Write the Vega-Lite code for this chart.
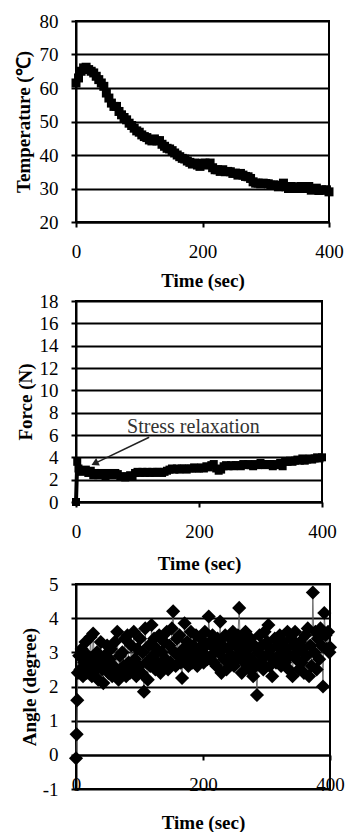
{
  "$schema": "https://vega.github.io/schema/vega-lite/v6.json",
  "padding": {"left": 13, "top": 11, "right": 5, "bottom": 0},
  "columns": 1,
  "align": "none",
  "spacing": 0,
  "datasets": {
    "temp": [
      {"t":0,"v":61.5},{"t":4,"v":63},{"t":8,"v":65},{"t":12,"v":66},{"t":16,"v":66.2},{"t":20,"v":65.5},{"t":24,"v":65},{"t":28,"v":64.5},{"t":32,"v":63.5},{"t":36,"v":62.5},{"t":40,"v":61.5},{"t":44,"v":60.5},{"t":48,"v":58.5},{"t":52,"v":57},{"t":56,"v":55.5},{"t":60,"v":54.5},{"t":64,"v":54.5},{"t":68,"v":53},{"t":72,"v":52},{"t":76,"v":51.2},{"t":80,"v":50.5},{"t":84,"v":49.5},{"t":88,"v":48.8},{"t":92,"v":48},{"t":96,"v":47.2},{"t":100,"v":46.8},{"t":104,"v":46},{"t":108,"v":45.5},{"t":112,"v":45.2},{"t":116,"v":44.5},{"t":120,"v":44.2},{"t":124,"v":44.8},{"t":128,"v":44.2},{"t":132,"v":44.3},{"t":136,"v":43.2},{"t":140,"v":42.6},{"t":144,"v":42},{"t":148,"v":41.8},{"t":152,"v":41.3},{"t":156,"v":40.6},{"t":160,"v":40},{"t":164,"v":39.5},{"t":168,"v":39},{"t":172,"v":38.8},{"t":176,"v":38.2},{"t":180,"v":37.8},{"t":184,"v":37.3},{"t":188,"v":37.6},{"t":192,"v":37},{"t":196,"v":36.6},{"t":200,"v":37.5},{"t":204,"v":37.6},{"t":208,"v":37},{"t":212,"v":37.6},{"t":216,"v":36.2},{"t":220,"v":35.6},{"t":224,"v":35.6},{"t":228,"v":35.1},{"t":232,"v":35.6},{"t":236,"v":35},{"t":240,"v":35.1},{"t":244,"v":35},{"t":248,"v":34.5},{"t":252,"v":34.6},{"t":256,"v":34},{"t":260,"v":34.5},{"t":264,"v":34},{"t":268,"v":33.6},{"t":272,"v":33.5},{"t":276,"v":33},{"t":280,"v":32},{"t":284,"v":31.6},{"t":288,"v":31.6},{"t":292,"v":31.4},{"t":296,"v":31.6},{"t":300,"v":31.5},{"t":304,"v":31.4},{"t":308,"v":31},{"t":312,"v":31.1},{"t":316,"v":30.9},{"t":320,"v":30.5},{"t":324,"v":31},{"t":328,"v":31.6},{"t":332,"v":30.5},{"t":336,"v":30},{"t":340,"v":30.6},{"t":344,"v":30},{"t":348,"v":30.5},{"t":352,"v":30},{"t":356,"v":30.6},{"t":360,"v":30},{"t":364,"v":30.1},{"t":368,"v":30.6},{"t":372,"v":29.5},{"t":376,"v":30},{"t":380,"v":30.1},{"t":384,"v":29.4},{"t":388,"v":29.6},{"t":392,"v":29.5},{"t":396,"v":29.6},{"t":400,"v":29}
    ],
    "force": [
      {"t":0,"f":0},{"t":2,"f":3.6},{"t":4,"f":3.0},{"t":8,"f":2.7},{"t":12,"f":2.8},{"t":16,"f":2.9},{"t":20,"f":2.6},{"t":24,"f":2.8},{"t":28,"f":2.4},{"t":32,"f":2.6},{"t":36,"f":2.4},{"t":40,"f":2.6},{"t":44,"f":2.5},{"t":48,"f":2.3},{"t":52,"f":2.6},{"t":56,"f":2.5},{"t":60,"f":2.4},{"t":64,"f":2.6},{"t":68,"f":2.5},{"t":72,"f":2.3},{"t":76,"f":2.3},{"t":80,"f":2.2},{"t":84,"f":2.3},{"t":88,"f":2.4},{"t":92,"f":2.3},{"t":96,"f":2.6},{"t":100,"f":2.7},{"t":104,"f":2.6},{"t":108,"f":2.7},{"t":112,"f":2.6},{"t":116,"f":2.7},{"t":120,"f":2.6},{"t":124,"f":2.7},{"t":128,"f":2.6},{"t":132,"f":2.7},{"t":136,"f":2.7},{"t":140,"f":2.6},{"t":144,"f":2.7},{"t":148,"f":2.8},{"t":152,"f":2.9},{"t":156,"f":3.0},{"t":160,"f":2.9},{"t":164,"f":3.0},{"t":168,"f":2.9},{"t":172,"f":3.0},{"t":176,"f":3.0},{"t":180,"f":2.9},{"t":184,"f":3.0},{"t":188,"f":3.0},{"t":192,"f":3.1},{"t":196,"f":3.0},{"t":200,"f":3.0},{"t":204,"f":3.1},{"t":208,"f":3.0},{"t":212,"f":3.2},{"t":216,"f":3.1},{"t":220,"f":3.3},{"t":224,"f":3.4},{"t":228,"f":3.0},{"t":232,"f":2.8},{"t":236,"f":2.9},{"t":240,"f":3.2},{"t":244,"f":3.3},{"t":248,"f":3.2},{"t":252,"f":3.3},{"t":256,"f":3.2},{"t":260,"f":3.3},{"t":264,"f":3.3},{"t":268,"f":3.2},{"t":272,"f":3.4},{"t":276,"f":3.3},{"t":280,"f":3.4},{"t":284,"f":3.3},{"t":288,"f":3.2},{"t":292,"f":3.4},{"t":296,"f":3.3},{"t":300,"f":3.5},{"t":304,"f":3.4},{"t":308,"f":3.3},{"t":312,"f":3.4},{"t":316,"f":3.4},{"t":320,"f":3.2},{"t":324,"f":3.4},{"t":328,"f":3.3},{"t":332,"f":3.5},{"t":336,"f":3.2},{"t":340,"f":3.6},{"t":344,"f":3.6},{"t":348,"f":3.7},{"t":352,"f":3.6},{"t":356,"f":3.7},{"t":360,"f":3.8},{"t":364,"f":3.7},{"t":368,"f":3.9},{"t":372,"f":3.7},{"t":376,"f":3.8},{"t":380,"f":3.9},{"t":384,"f":3.8},{"t":388,"f":3.9},{"t":392,"f":4.0},{"t":396,"f":3.9},{"t":400,"f":4.0}
    ],
    "angle": [
      {"t":0,"a":-0.1},{"t":1,"a":0.6},{"t":2,"a":1.6},{"t":3,"a":2.4},{"t":5,"a":2.9},{"t":7,"a":2.5},{"t":9,"a":3.1},{"t":11,"a":2.3},{"t":13,"a":2.7},{"t":15,"a":3.3},{"t":17,"a":2.4},{"t":19,"a":2.9},{"t":21,"a":2.6},{"t":23,"a":3.45},{"t":25,"a":2.3},{"t":27,"a":3.55},{"t":29,"a":2.8},{"t":31,"a":2.5},{"t":33,"a":3.0},{"t":35,"a":2.2},{"t":37,"a":2.7},{"t":39,"a":3.3},{"t":41,"a":2.5},{"t":43,"a":2.1},{"t":45,"a":2.9},{"t":47,"a":2.6},{"t":49,"a":3.2},{"t":51,"a":2.4},{"t":53,"a":2.8},{"t":55,"a":3.1},{"t":57,"a":2.3},{"t":59,"a":2.6},{"t":61,"a":3.3},{"t":63,"a":2.5},{"t":65,"a":3.6},{"t":67,"a":2.2},{"t":69,"a":2.9},{"t":71,"a":2.4},{"t":73,"a":3.0},{"t":75,"a":2.6},{"t":77,"a":3.4},{"t":79,"a":2.3},{"t":81,"a":3.5},{"t":83,"a":2.7},{"t":85,"a":2.4},{"t":87,"a":3.2},{"t":89,"a":2.5},{"t":91,"a":3.6},{"t":93,"a":2.8},{"t":95,"a":2.3},{"t":97,"a":3.1},{"t":99,"a":2.6},{"t":101,"a":3.4},{"t":103,"a":2.4},{"t":105,"a":3.0},{"t":107,"a":1.85},{"t":109,"a":3.7},{"t":111,"a":2.7},{"t":113,"a":2.2},{"t":115,"a":3.2},{"t":117,"a":2.6},{"t":119,"a":3.8},{"t":121,"a":2.9},{"t":123,"a":3.4},{"t":125,"a":2.5},{"t":127,"a":3.1},{"t":129,"a":2.7},{"t":131,"a":3.5},{"t":133,"a":2.4},{"t":135,"a":3.0},{"t":137,"a":2.6},{"t":139,"a":3.3},{"t":141,"a":2.8},{"t":143,"a":3.6},{"t":145,"a":2.5},{"t":147,"a":3.2},{"t":149,"a":2.7},{"t":151,"a":3.7},{"t":153,"a":4.2},{"t":155,"a":3.0},{"t":157,"a":2.6},{"t":159,"a":3.4},{"t":161,"a":2.9},{"t":163,"a":3.5},{"t":165,"a":2.7},{"t":167,"a":2.25},{"t":169,"a":3.1},{"t":171,"a":3.85},{"t":173,"a":2.8},{"t":175,"a":3.3},{"t":177,"a":2.6},{"t":179,"a":3.0},{"t":181,"a":3.6},{"t":183,"a":2.7},{"t":185,"a":3.2},{"t":187,"a":2.9},{"t":189,"a":3.5},{"t":191,"a":2.6},{"t":193,"a":3.1},{"t":195,"a":2.8},{"t":197,"a":3.4},{"t":199,"a":3.0},{"t":201,"a":2.7},{"t":203,"a":3.6},{"t":205,"a":3.2},{"t":207,"a":2.8},{"t":209,"a":4.05},{"t":211,"a":3.3},{"t":213,"a":2.9},{"t":215,"a":3.5},{"t":217,"a":2.7},{"t":219,"a":3.1},{"t":221,"a":2.6},{"t":223,"a":3.4},{"t":225,"a":3.0},{"t":227,"a":3.9},{"t":229,"a":2.4},{"t":231,"a":3.2},{"t":233,"a":2.8},{"t":235,"a":3.5},{"t":237,"a":2.5},{"t":239,"a":3.1},{"t":241,"a":2.7},{"t":243,"a":3.4},{"t":245,"a":2.9},{"t":247,"a":3.6},{"t":249,"a":2.6},{"t":251,"a":3.2},{"t":253,"a":2.8},{"t":255,"a":3.5},{"t":257,"a":4.3},{"t":259,"a":3.0},{"t":261,"a":2.4},{"t":263,"a":3.3},{"t":265,"a":2.7},{"t":267,"a":3.6},{"t":269,"a":2.9},{"t":271,"a":3.1},{"t":273,"a":2.5},{"t":275,"a":3.4},{"t":277,"a":2.8},{"t":279,"a":2.3},{"t":281,"a":3.2},{"t":283,"a":2.6},{"t":285,"a":1.75},{"t":287,"a":3.0},{"t":289,"a":3.5},{"t":291,"a":2.7},{"t":293,"a":3.2},{"t":295,"a":2.5},{"t":297,"a":3.6},{"t":299,"a":2.9},{"t":301,"a":3.3},{"t":303,"a":3.8},{"t":305,"a":2.6},{"t":307,"a":3.1},{"t":309,"a":2.3},{"t":311,"a":2.8},{"t":313,"a":3.4},{"t":315,"a":2.7},{"t":317,"a":3.2},{"t":319,"a":2.9},{"t":321,"a":3.5},{"t":323,"a":2.6},{"t":325,"a":3.0},{"t":327,"a":3.3},{"t":329,"a":2.7},{"t":331,"a":3.1},{"t":333,"a":3.6},{"t":335,"a":2.5},{"t":337,"a":2.9},{"t":339,"a":3.4},{"t":341,"a":2.3},{"t":343,"a":3.2},{"t":345,"a":3.6},{"t":347,"a":2.8},{"t":349,"a":3.0},{"t":351,"a":2.5},{"t":353,"a":3.3},{"t":355,"a":2.7},{"t":357,"a":3.1},{"t":359,"a":2.4},{"t":361,"a":3.5},{"t":363,"a":2.9},{"t":365,"a":3.7},{"t":367,"a":2.3},{"t":369,"a":3.2},{"t":371,"a":2.6},{"t":373,"a":4.75},{"t":375,"a":3.0},{"t":377,"a":3.6},{"t":379,"a":2.5},{"t":381,"a":3.4},{"t":383,"a":2.8},{"t":385,"a":3.7},{"t":387,"a":3.2},{"t":389,"a":2.0},{"t":391,"a":4.15},{"t":393,"a":3.5},{"t":395,"a":3.1},{"t":397,"a":3.6},{"t":399,"a":3.0},{"t":400,"a":3.15}
    ],
    "note": [{"t":191,"f":6.18,"label":"Stress relaxation"}],
    "arrow": [{"t":119,"f":5.8,"t2":30.5,"f2":3.46}],
    "head": [{"t":30.5,"f":3.46}]
  },
  "concat": [
    {
      "width": 253, "height": 201,
      "data": {"name": "temp"},
      "encoding": {
        "x": {"field": "t", "type": "quantitative", "scale": {"domain": [0, 400], "nice": false}, "axis": {"values": [0, 200, 400], "title": "Time (sec)", "titlePadding": 10}},
        "y": {"field": "v", "type": "quantitative", "scale": {"domain": [20, 80], "nice": false, "zero": false}, "axis": {"values": [20, 30, 40, 50, 60, 70, 80], "labelOverlap": false, "title": "Temperature (℃)", "titlePadding": 6}}
      },
      "layer": [
        {"mark": {"type": "line", "color": "black", "strokeWidth": 5}},
        {"mark": {"type": "point", "shape": "square", "filled": true, "color": "black", "opacity": 1, "size": 81}}
      ]
    },
    {
      "width": 246, "height": 201,
      "encoding": {
        "x": {"field": "t", "type": "quantitative", "scale": {"domain": [0, 400], "nice": false}, "axis": {"values": [0, 200, 400], "title": "Time (sec)", "titlePadding": 13}},
        "y": {"field": "f", "type": "quantitative", "scale": {"domain": [0, 18], "nice": false}, "axis": {"values": [0, 2, 4, 6, 8, 10, 12, 14, 16, 18], "labelOverlap": false, "title": "Force (N)", "titlePadding": 4}}
      },
      "layer": [
        {
          "data": {"name": "force"},
          "mark": {"type": "line", "color": "black", "strokeWidth": 4}
        },
        {
          "data": {"name": "force"},
          "mark": {"type": "point", "shape": "square", "filled": true, "color": "black", "opacity": 1, "size": 64}
        },
        {
          "data": {"name": "arrow"},
          "mark": {"type": "rule", "color": "#222", "strokeWidth": 1.5},
          "encoding": {
            "x2": {"field": "t2"},
            "y2": {"field": "f2"}
          }
        },
        {
          "data": {"name": "head"},
          "mark": {"type": "point", "shape": "triangle-up", "filled": true, "color": "#222", "opacity": 1, "size": 70, "angle": 244}
        },
        {
          "data": {"name": "note"},
          "mark": {"type": "text", "font": "Liberation Serif", "fontSize": 20, "color": "#333", "baseline": "alphabetic", "align": "center"},
          "encoding": {
            "text": {"field": "label"}
          }
        }
      ]
    },
    {
      "width": 254, "height": 205,
      "data": {"name": "angle"},
      "encoding": {
        "x": {"field": "t", "type": "quantitative", "scale": {"domain": [0, 400], "nice": false}, "axis": {"values": [0, 200, 400], "title": "Time (sec)", "offset": -34, "titlePadding": 19}},
        "y": {"field": "a", "type": "quantitative", "scale": {"domain": [-1, 5], "nice": false, "zero": false}, "axis": {"values": [-1, 0, 1, 2, 3, 4, 5], "labelOverlap": false, "labelExpr": "replace(datum.label, '\u2212', '-')", "title": "Angle (degree)", "titlePadding": 3}}
      },
      "layer": [
        {"mark": {"type": "line", "color": "#555", "strokeWidth": 0.8}},
        {"mark": {"type": "point", "shape": "diamond", "filled": true, "color": "black", "opacity": 1, "size": 200}}
      ]
    }
  ],
  "config": {
    "font": "Liberation Serif",
    "view": {"stroke": "black", "strokeWidth": 2},
    "axis": {
      "labelFont": "Liberation Serif", "labelFontSize": 19, "labelColor": "black",
      "titleFont": "Liberation Serif", "titleFontSize": 19, "titleFontWeight": "bold", "titleColor": "black",
      "domainColor": "black", "domainWidth": 2,
      "tickColor": "black", "tickWidth": 2, "tickSize": 5,
      "gridColor": "black", "gridWidth": 2, "gridOpacity": 1
    },
    "axisX": {"grid": false, "labelPadding": 15, "labelFlush": false, "labelOverlap": false},
    "axisY": {"grid": true, "labelPadding": 13, "labelOverlap": false}
  }
}
